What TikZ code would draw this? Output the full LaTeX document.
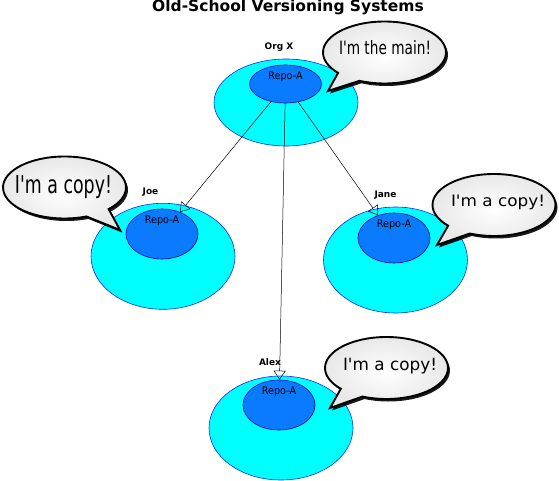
\documentclass[tikz,border=0pt]{standalone}
\usepackage{fontspec}
\setmainfont{DejaVu Sans}
\usetikzlibrary{shapes.geometric,shapes.callouts,shadows,arrows.meta,positioning}
\definecolor{orgcyan}{RGB}{0,255,255}
\definecolor{orgblue}{RGB}{20,40,255}
\definecolor{repoblue}{RGB}{10,122,255}
\definecolor{repoline}{RGB}{0,0,190}
\newcommand{\saytext}[3]{\resizebox{#1}{#2}{#3}}
\tikzset{
  orgbox/.style={ellipse, draw=orgblue, fill=orgcyan, line width=0.6pt, inner sep=0pt, minimum width=144pt},
  repobox/.style={ellipse, draw=repoline, fill=repoblue, line width=0.6pt, inner sep=0pt, minimum width=72pt},
  repotext/.style={inner sep=0pt, anchor=north, font=\fontsize{10.5}{10.5}\selectfont},
  owner/.style={inner sep=0pt, anchor=base, font=\bfseries\fontsize{9}{9}\selectfont},
  bubble/.style={ellipse callout, draw=black, line width=1.9pt, inner sep=0pt, minimum width=123pt, minimum height=62pt, callout pointer arc=25, inner color=white, outer color=black!9, drop shadow={shadow xshift=2pt, shadow yshift=-2.5pt, fill=black, opacity=0.9}},
  saying/.style={inner sep=0pt, anchor=base},
  copyline/.style={-{Triangle[open, length=9pt, width=12pt]}, line width=0.5pt}
}
\begin{document}
\begin{tikzpicture}[x=1pt, y=-1pt]
\useasboundingbox (0,0) rectangle (559,481);
\node[anchor=base, inner sep=0pt, font=\bfseries\fontsize{15.5}{15.5}\selectfont] (title) at (288,12) {Old-School Versioning Systems};
% the main repository
\node[orgbox, minimum height=87pt] (orgx) at (286,102.5) {};
\node[repobox, minimum height=38pt] (orgxrepo) at (285.5,84) {};
\node[repotext, below=6.5pt of orgxrepo.north] (orgxtext) {\scalebox{0.92}[1]{Repo-A}};
\node[owner] (orgxname) at (279,49.3) {Org X};
% the copies
\node[orgbox, minimum height=106pt] (joe) at (163,256.3) {};
\node[repobox, minimum height=50pt] (joerepo) at (162,234) {};
\node[repotext, below=6.5pt of joerepo.north] (joetext) {\scalebox{0.92}[1]{Repo-A}};
\node[owner] (joename) at (150.5,194.3) {Joe};
\node[orgbox, minimum height=106pt] (jane) at (395.5,260) {};
\node[repobox, minimum height=50pt] (janerepo) at (394,238) {};
\node[repotext, below=6.5pt of janerepo.north] (janetext) {\scalebox{0.92}[1]{Repo-A}};
\node[owner] (janename) at (385.5,197.3) {Jane};
\node[orgbox, minimum height=104pt] (alex) at (281,428) {};
\node[repobox, minimum height=50pt] (alexrepo) at (279,405) {};
\node[repotext, below=6.5pt of alexrepo.north] (alextext) {\scalebox{0.92}[1]{Repo-A}};
\node[owner] (alexname) at (270,365.7) {Alex};
% copying
\draw[copyline] (orgxrepo) -- (joerepo);
\draw[copyline] (orgxrepo) -- (janerepo);
\draw[copyline] (orgxrepo) -- (alexrepo);
% speech bubbles
\node[bubble, callout absolute pointer={(328,91)}] (mainsay) at (384.5,52.5) {};
\node[saying] (maintext) at (385,54.7) {\saytext{92pt}{14pt}{I\textquotesingle m the main!}};
\node[bubble, callout absolute pointer={(120,230)}] (joesay) at (64.5,187.5) {};
\node[saying] (joetext2) at (63.5,193.3) {\saytext{97pt}{18pt}{I\textquotesingle m a copy!}};
\node[bubble, callout absolute pointer={(437,245)}] (janesay) at (494,205) {};
\node[saying] (janetext2) at (498,206.3) {\saytext{94pt}{11.5pt}{I\textquotesingle m a copy!}};
\node[bubble, callout absolute pointer={(330,408)}] (alexsay) at (386.5,368) {};
\node[saying] (alextext2) at (390,370) {\saytext{94pt}{12.3pt}{I\textquotesingle m a copy!}};
\end{tikzpicture}
\end{document}
